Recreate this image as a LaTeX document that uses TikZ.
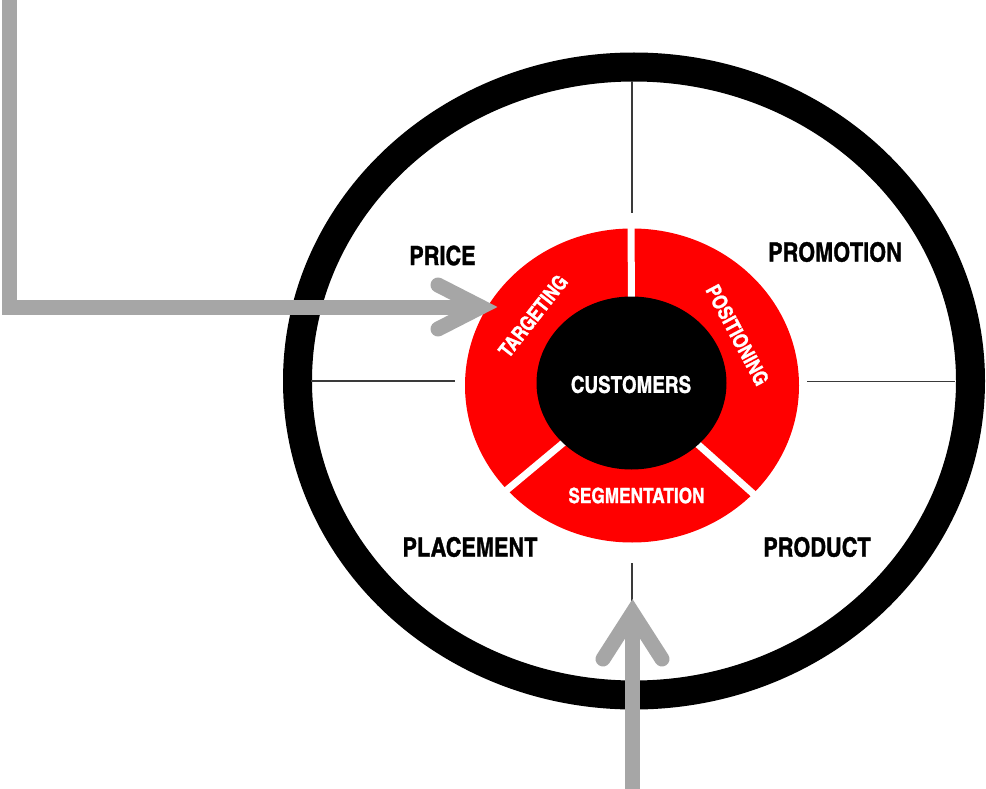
\documentclass[tikz,border=0pt]{standalone}
\usepackage{fontspec}
\newfontfamily\cnfont{texgyreheroscn-bold.otf}[FakeBold=1.2]
\definecolor{arrowgray}{HTML}{A6A6A6}
\definecolor{ringred}{HTML}{FF0000}
\definecolor{divgray}{HTML}{3A3A3A}
\tikzset{
  outerring/.style={draw=black, line width=29pt},
  divider/.style={draw=divgray, line width=1.2pt},
  gapline/.style={draw=white, line width=7pt},
  plabel/.style={font=\cnfont\fontsize{26.5}{27}\selectfont, text=black, inner sep=0pt},
  ringlabel/.style={font=\cnfont\fontsize{20.5}{21}\selectfont, text=white, inner sep=0pt},
  corelabel/.style={font=\cnfont\fontsize{23}{23}\selectfont, text=white, inner sep=0pt},
  grayshaft/.style={draw=arrowgray, line width=15pt, line join=miter},
  grayhead/.style={draw=arrowgray, line width=15pt, line cap=round, line join=miter},
}
\begin{document}
\begin{tikzpicture}[x=1pt,y=-1pt]
\useasboundingbox (0,0) rectangle (986,789);
\fill[white] (0,0) rectangle (986,789);

% coordinates
\coordinate (c) at (634,381);
\coordinate (rc) at (632,385.5);
\coordinate (bc) at (631.5,383);

% outer ring
\draw[outerring] (c) ellipse [x radius=336.5pt, y radius=314pt];

% dividers
\coordinate (dl1) at (311,381);
\coordinate (dl2) at (455,381);
\coordinate (dr1) at (807,381.5);
\coordinate (dr2) at (955,381.5);
\coordinate (dt1) at (632,81);
\coordinate (dt2) at (632,213);
\coordinate (db1) at (632,563);
\coordinate (db2) at (632,620);
\draw[divider] (dl1) -- (dl2);
\draw[divider] (dr1) -- (dr2);
\draw[divider] (dt1) -- (dt2);
\draw[divider] (db1) -- (db2);

% red ring
\fill[ringred] (rc) ellipse [x radius=167pt, y radius=157pt];
\coordinate (g1) at (631,222);
\coordinate (g2) at (502,494);
\coordinate (g3) at (758,498);
\draw[gapline] (rc) -- (g1);
\draw[gapline] (rc) -- (g2);
\draw[gapline] (rc) -- (g3);
\fill[black] (bc) ellipse [x radius=95pt, y radius=86.5pt];

% texts
\node[corelabel] (customers) at (631,384.5) {CUSTOMERS};
\node[ringlabel, font=\cnfont\fontsize{21}{21}\selectfont] (segmentation) at (636.5,495.5) {SEGMENTATION};
\node[ringlabel, rotate=52] (targeting) at (533,316) {TARGETING};
\node[ringlabel, rotate=-62] (positioning) at (737.5,335) {POSITIONING};

\node[plabel] (price) at (442.5,255.5) {PRICE};
\node[plabel] (promotion) at (835,252) {PROMOTION};
\node[plabel] (placement) at (470,547) {PLACEMENT};
\node[plabel] (product) at (817,547) {PRODUCT};

% left arrow
\coordinate (la0) at (9.5,-10);
\coordinate (la1) at (9.5,307);
\coordinate (la2) at (470,307);
\coordinate (lat) at (481,307);
\coordinate (lau) at (438,285);
\coordinate (lad) at (438,329);
\draw[grayshaft] (la0) -- (la1) -- (la2);
\draw[grayhead] (lau) -- (lat) -- (lad);

% bottom arrow
\coordinate (ba0) at (632.5,800);
\coordinate (ba1) at (632.5,622);
\coordinate (bat) at (632.5,613);
\coordinate (bal) at (603,659);
\coordinate (bar) at (662,659);
\draw[grayshaft] (ba0) -- (ba1);
\draw[grayhead] (bal) -- (bat) -- (bar);
\end{tikzpicture}
\end{document}
